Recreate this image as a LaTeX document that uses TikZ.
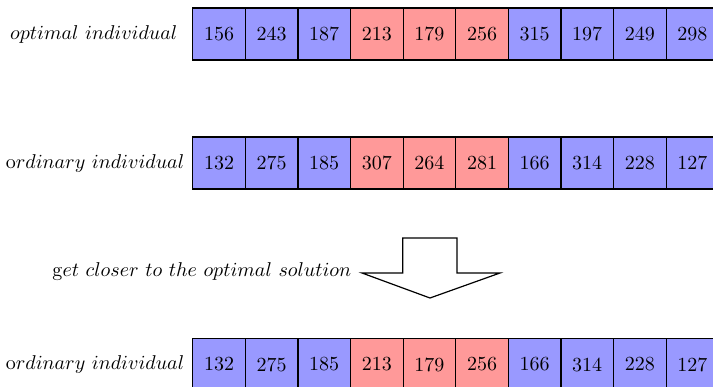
\documentclass[tikz,border=0pt]{standalone}
\usepackage{amsmath}
\usetikzlibrary{positioning}

\begin{document}
\begin{tikzpicture}[x=0.5pt,y=-0.5pt,line width=0.6pt,
  gene/.style={draw,minimum width=26.3pt,minimum height=26pt,inner sep=0pt,outer sep=0pt},
  keep/.style={gene,fill=blue!40},
  swap/.style={gene,fill=red!40},
  tag/.style={inner sep=0pt}]
  \useasboundingbox (0,0) rectangle (713,386);
  % individuo optimo
  \node[keep] (opt1) at (219,34) {156};
  \foreach \v/\s [count=\i from 2,remember=\i as \j (initially 1)] in
    {243/keep,187/keep,213/swap,179/swap,256/swap,315/keep,197/keep,249/keep,298/keep}
    \node[\s,right=0pt of opt\j] (opt\i) {\v};
  \node[tag,left=7.3pt of opt1] (optlab) {$optimal\ individual$};
  % individuo ordinario (antes)
  \node[keep] (old1) at (219,163) {132};
  \foreach \v/\s [count=\i from 2,remember=\i as \j (initially 1)] in
    {275/keep,185/keep,307/swap,264/swap,281/swap,166/keep,314/keep,228/keep,127/keep}
    \node[\s,right=0pt of old\j] (old\i) {\v};
  \node[tag,left=3.9pt of old1] (oldlab) {$\mathrm{o}rdinary\ individual$};
  % flecha
  \coordinate (tip) at (430,298);
  \coordinate (hl) at (362,273);
  \draw (402.7,238) -- (457,238) -- (457,273) -- (500,273) -- (tip) -- (hl) -- (402.7,273) -- cycle;
  \node[tag,anchor=base east] (goal) at ([xshift=-5pt,yshift=-1.8pt]hl)
    {$\mathrm{g}et\ closer\ to\ the\ optimal\ solution$};
  % individuo ordinario (despues)
  \node[keep] (new1) at (219,364.5) {132};
  \foreach \v/\s [count=\i from 2,remember=\i as \j (initially 1)] in
    {275/keep,185/keep,213/swap,179/swap,256/swap,166/keep,314/keep,228/keep,127/keep}
    \node[\s,right=0pt of new\j] (new\i) {\v};
  \node[tag,left=3.9pt of new1] (newlab) {$\mathrm{o}rdinary\ individual$};
\end{tikzpicture}
\end{document}
